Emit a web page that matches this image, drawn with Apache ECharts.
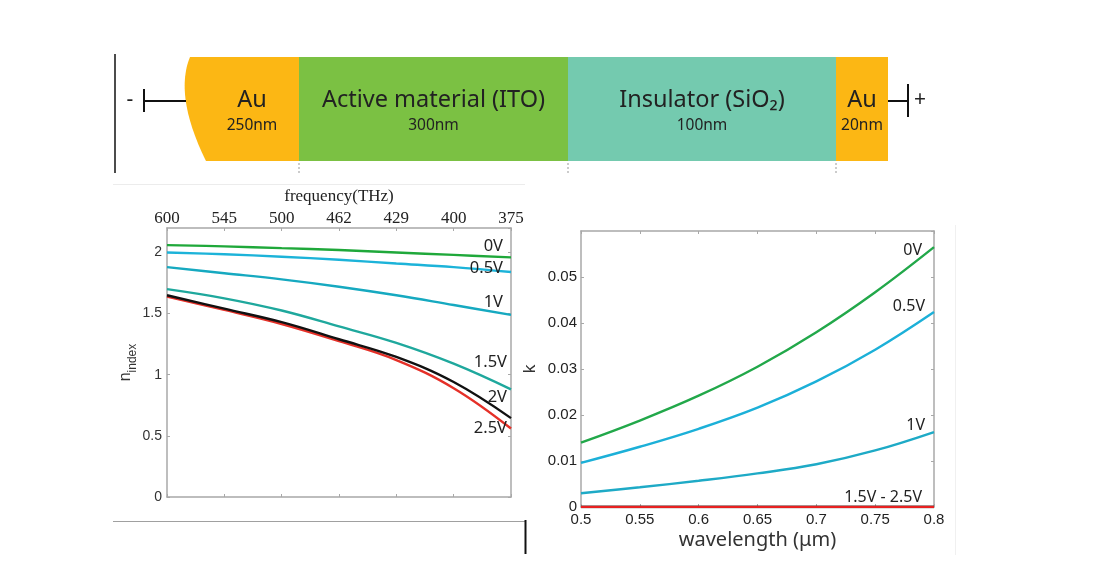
<!DOCTYPE html>
<html><head><meta charset="utf-8">
<script src="https://cdn.jsdelivr.net/npm/echarts@6/dist/echarts.min.js"></script>
<style>html,body{margin:0;padding:0;background:#fff}#c{width:1111px;height:570px}</style>
</head><body><div id="c"></div>
<script>
// ---- data ----
const wavelengths = [0.5, 0.55, 0.6, 0.65, 0.7, 0.75, 0.8];
const freqLabels = ['600', '545', '500', '462', '429', '400', '375'];
const voltages = ['0V', '0.5V', '1V', '1.5V', '2V', '2.5V'];
// refractive index n vs wavelength
const n0V  = [2.06, 2.05, 2.035, 2.02, 2.0, 1.98, 1.96];
const n05V = [2.0, 1.985, 1.965, 1.94, 1.91, 1.88, 1.84];
const n1V  = [1.88, 1.83, 1.78, 1.72, 1.65, 1.57, 1.49];
const n15V = [1.70, 1.625, 1.525, 1.395, 1.26, 1.09, 0.88];
const n2V  = [1.65, 1.54, 1.43, 1.29, 1.145, 0.94, 0.645];
const n25V = [1.64, 1.53, 1.415, 1.275, 1.12, 0.89, 0.56];
// extinction coefficient k vs wavelength
const k0V  = [0.014, 0.0188, 0.0242, 0.0305, 0.038, 0.0467, 0.0565];
const k05V = [0.0096, 0.0131, 0.0170, 0.0216, 0.0273, 0.0342, 0.0424];
const k1V  = [0.003, 0.0043, 0.0057, 0.0073, 0.0093, 0.0123, 0.0163];
const k15V = [0, 0, 0, 0, 0, 0, 0];
const k2V  = [0, 0, 0, 0, 0, 0, 0];
const k25V = [0, 0, 0, 0, 0, 0, 0];
const kLabels = ['0V', '0.5V', '1V', '1.5V - 2.5V'];
// layer stack
const layerNames = ['Au', 'Active material (ITO)', 'Insulator (SiO₂)', 'Au'];
const layerThick = ['250nm', '300nm', '100nm', '20nm'];

// ---- styles / layout ----
const layerColors = ['#fcb714', '#7bc143', '#74caaf', '#fcb714'];
const bounds = [183, 299, 568, 836, 888];
const LT = 57, LB = 161;
const nColors = ['#1fa83a', '#1cb3d9', '#16a9c0', '#1fa89d', '#111111', '#e53028'];
const kColors = ['#22a84a', '#1cb0d8', '#1eaac6', '#1fa89d', '#111111', '#e82020'];
const SANS = '"Liberation Sans", Arial, sans-serif';
const TAH = '"Noto Sans", "DejaVu Sans", sans-serif';
const SERIF = '"Liberation Serif", "Times New Roman", serif';
const axisGray = '#a8a8a8';

const chart = echarts.init(document.getElementById('c'), null, {renderer: 'canvas', width: 1111, height: 570});

function pts(arr) { return wavelengths.map((w, i) => [w, arr[i]]); }

function auPath() {
  const p0 = [190, LT], c = [174, 96], p2 = [206, LB];
  const out = [];
  for (let i = 0; i <= 30; i++) {
    const t = i / 30, a = (1 - t) * (1 - t), b = 2 * t * (1 - t), d = t * t;
    out.push([a * p0[0] + b * c[0] + d * p2[0], a * p0[1] + b * c[1] + d * p2[1]]);
  }
  out.push([bounds[1], LB], [bounds[1], LT]);
  return out;
}

function diagram() {
  const g = [];
  g.push({type: 'line', shape: {x1: 115, y1: 54, x2: 115, y2: 173}, style: {stroke: '#111', lineWidth: 1.5}});
  g.push({type: 'polygon', shape: {points: auPath()}, style: {fill: layerColors[0]}});
  for (let i = 1; i < 4; i++) {
    g.push({type: 'rect', shape: {x: bounds[i], y: LT, width: bounds[i + 1] - bounds[i], height: LB - LT}, style: {fill: layerColors[i]}});
  }
  const centers = [252, (bounds[1] + bounds[2]) / 2, (bounds[2] + bounds[3]) / 2, (bounds[3] + bounds[4]) / 2];
  for (let i = 0; i < 4; i++) {
    g.push({type: 'text', x: centers[i], y: 100, style: {text: layerNames[i], font: '23.5px ' + TAH, fill: '#222', align: 'center', verticalAlign: 'middle'}});
    g.push({type: 'text', x: centers[i], y: 126, style: {text: layerThick[i], font: '15.5px ' + TAH, fill: '#222', align: 'center', verticalAlign: 'middle'}});
  }
  // dashed boundary ticks
  [bounds[1], bounds[2], bounds[3]].forEach(x => g.push({type: 'line', shape: {x1: x, y1: 163, x2: x, y2: 173}, style: {stroke: '#999', lineWidth: 1, lineDash: [2, 2]}}));
  // left electrode
  g.push({type: 'text', x: 130, y: 100, style: {text: '-', font: '21px ' + TAH, fill: '#222', align: 'center', verticalAlign: 'middle'}});
  g.push({type: 'line', shape: {x1: 144, y1: 101, x2: 186, y2: 101}, style: {stroke: '#111', lineWidth: 2}});
  g.push({type: 'line', shape: {x1: 144, y1: 89, x2: 144, y2: 112}, style: {stroke: '#111', lineWidth: 2}});
  // right electrode
  g.push({type: 'line', shape: {x1: 888, y1: 101, x2: 908, y2: 101}, style: {stroke: '#111', lineWidth: 2}});
  g.push({type: 'line', shape: {x1: 908, y1: 84, x2: 908, y2: 117}, style: {stroke: '#111', lineWidth: 2}});
  g.push({type: 'text', x: 920, y: 100, style: {text: '+', font: '21px ' + TAH, fill: '#222', align: 'center', verticalAlign: 'middle'}});
  // panel frame artifacts
  g.push({type: 'line', shape: {x1: 113, y1: 184.5, x2: 525, y2: 184.5}, style: {stroke: '#ececec', lineWidth: 1}});
  g.push({type: 'line', shape: {x1: 113, y1: 521.5, x2: 525, y2: 521.5}, style: {stroke: '#a0a0a0', lineWidth: 1}});
  g.push({type: 'line', shape: {x1: 525.5, y1: 520, x2: 525.5, y2: 554}, style: {stroke: '#111', lineWidth: 2}});
  g.push({type: 'line', shape: {x1: 955.5, y1: 225, x2: 955.5, y2: 555}, style: {stroke: '#f0f0f0', lineWidth: 1}});
  return g;
}

function axisBase(extra) {
  return Object.assign({
    type: 'value', min: 0.5, max: 0.8, interval: 0.05,
    axisLine: {show: true, onZero: false, lineStyle: {color: axisGray, width: 1.5}},
    axisTick: {show: true, inside: true, length: 3, lineStyle: {color: axisGray}},
    splitLine: {show: false},
    axisLabel: {show: false}
  }, extra);
}

function buildOption(labelGraphics) {
  const nArrs = [n0V, n05V, n1V, n15V, n2V, n25V];
  const kArrs = [k0V, k05V, k1V, k15V, k2V, k25V];
  const series = [];
  // left: draw red before black
  [0, 1, 2, 3, 5, 4].forEach(i => series.push({
    type: 'line', name: 'n ' + voltages[i], xAxisIndex: 0, yAxisIndex: 0, data: pts(nArrs[i]),
    smooth: 0.4, showSymbol: false, symbol: 'none', lineStyle: {color: nColors[i], width: 2.4}, z: 3
  }));
  [0, 1, 2, 3, 4, 5].forEach(i => series.push({
    type: 'line', name: 'k ' + voltages[i], xAxisIndex: 2, yAxisIndex: 2, data: pts(kArrs[i]),
    smooth: 0.4, showSymbol: false, symbol: 'none', lineStyle: {color: kColors[i], width: 2.4}, z: 3
  }));
  return {
    animation: false,
    backgroundColor: '#fff',
    grid: [
      {left: 167, top: 228, width: 344, height: 269},
      {left: 581, top: 231, width: 353, height: 276}
    ],
    xAxis: [
      axisBase({gridIndex: 0, position: 'top',
        axisLabel: {show: true, margin: 1, color: '#222', fontFamily: SERIF, fontSize: 17,
          formatter: v => freqLabels[Math.round((v - 0.5) / 0.05)]},
        name: 'frequency(THz)', nameLocation: 'middle', nameGap: 23,
        nameTextStyle: {fontFamily: SERIF, fontSize: 17, color: '#222'}}),
      axisBase({gridIndex: 0, position: 'bottom'}),
      axisBase({gridIndex: 1, position: 'bottom',
        axisLabel: {show: true, margin: 5, color: '#222', fontFamily: SANS, fontSize: 15,
          formatter: v => String(Math.round(v * 100) / 100)},
        name: 'wavelength (μm)', nameLocation: 'middle', nameGap: 23,
        nameTextStyle: {fontFamily: TAH, fontSize: 20, color: '#333'}}),
      axisBase({gridIndex: 1, position: 'top'})
    ],
    yAxis: [
      {type: 'value', gridIndex: 0, position: 'left', min: 0, max: 2.2, interval: 0.5,
        axisLine: {show: true, onZero: false, lineStyle: {color: axisGray, width: 1.5}},
        axisTick: {show: true, inside: true, length: 3, lineStyle: {color: axisGray}},
        splitLine: {show: false},
        axisLabel: {show: true, margin: 5, color: '#333', fontFamily: SANS, fontSize: 14, showMaxLabel: false},
        name: '{n|n}{s|index}', nameLocation: 'middle', nameGap: 27, nameRotate: 90,
        nameTextStyle: {color: '#333', fontFamily: SANS, rich: {
          n: {fontSize: 16, fontFamily: SANS, color: '#333', lineHeight: 26, verticalAlign: 'middle'},
          s: {fontSize: 12, fontFamily: SANS, color: '#333', lineHeight: 12, verticalAlign: 'bottom'}}}},
      {type: 'value', gridIndex: 0, position: 'right', min: 0, max: 2.2, interval: 0.5,
        axisLine: {show: true, onZero: false, lineStyle: {color: axisGray, width: 1.5}},
        axisTick: {show: true, inside: true, length: 3, lineStyle: {color: axisGray}},
        splitLine: {show: false}, axisLabel: {show: false}},
      {type: 'value', gridIndex: 1, position: 'left', min: 0, max: 0.06, interval: 0.01,
        axisLine: {show: true, onZero: false, lineStyle: {color: axisGray, width: 1.5}},
        axisTick: {show: true, inside: true, length: 3, lineStyle: {color: axisGray}},
        splitLine: {show: false},
        axisLabel: {show: true, margin: 4, color: '#222', fontFamily: SANS, fontSize: 15, showMaxLabel: false,
          formatter: v => String(Math.round(v * 100) / 100)},
        name: 'k', nameLocation: 'middle', nameGap: 42, nameRotate: 90,
        nameTextStyle: {fontFamily: TAH, fontSize: 17, color: '#333'}},
      {type: 'value', gridIndex: 1, position: 'right', min: 0, max: 0.06, interval: 0.01,
        axisLine: {show: true, onZero: false, lineStyle: {color: axisGray, width: 1.5}},
        axisTick: {show: true, inside: true, length: 3, lineStyle: {color: axisGray}},
        splitLine: {show: false}, axisLabel: {show: false}}
    ],
    series: series,
    graphic: {elements: diagram().concat(labelGraphics || [])}
  };
}

chart.setOption(buildOption([]));

// curve labels placed relative to each line's last point
const nEnds = [n0V, n05V, n1V, n15V, n2V, n25V].map(a => a[a.length - 1]);
const nOff = [[-8, -11], [-8, -4], [-8, -13], [-4, -27], [-4, -21], [-4, 0]];
const kEnds = [k0V, k05V, k1V, k25V].map(a => a[a.length - 1]);
const kOff = [[-12, 3], [-9, -6], [-9, -7], [-12, -10]];
const lastW = wavelengths[wavelengths.length - 1];
const labels = [];
voltages.forEach((v, i) => {
  const p = chart.convertToPixel({gridIndex: 0}, [lastW, nEnds[i]]);
  labels.push({type: 'text', x: p[0] + nOff[i][0], y: p[1] + nOff[i][1], z: 10,
    style: {text: v, font: '16.5px ' + TAH, fill: '#222', align: 'right', verticalAlign: 'middle'}});
});
kLabels.forEach((v, i) => {
  const p = chart.convertToPixel({gridIndex: 1}, [lastW, kEnds[i]]);
  labels.push({type: 'text', x: p[0] + kOff[i][0], y: p[1] + kOff[i][1], z: 10,
    style: {text: v, font: '16px ' + TAH, fill: '#222', align: 'right', verticalAlign: 'middle'}});
});
chart.setOption(buildOption(labels), true);
</script>
</body></html>
